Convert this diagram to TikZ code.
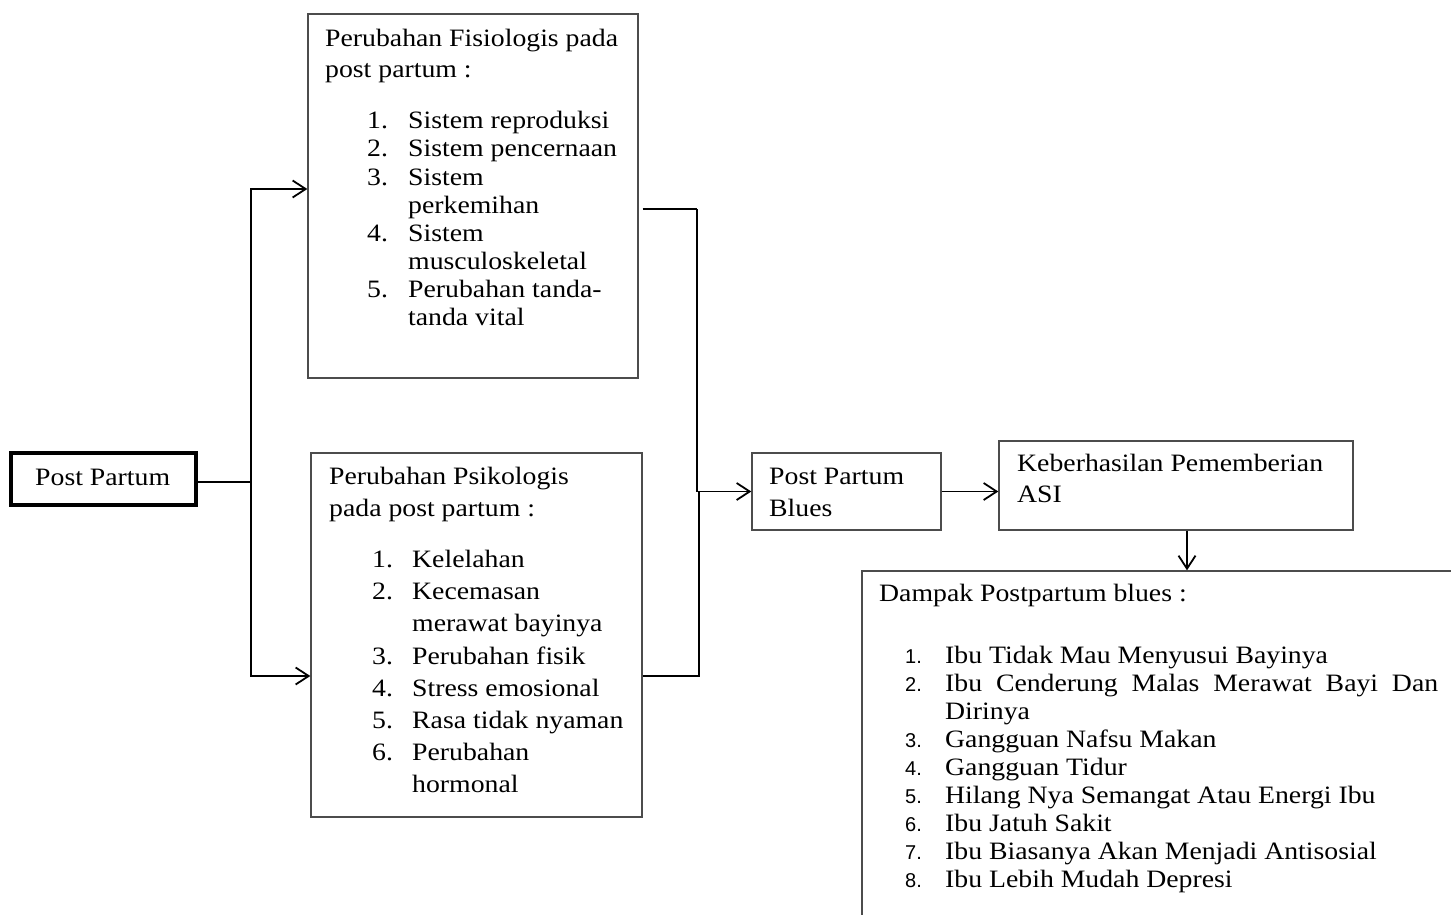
\documentclass[tikz,border=0pt]{standalone}
\usepackage{fontspec}
\setmainfont{Liberation Serif}[FakeStretch=1.11]
\newfontfamily\numsans{Liberation Sans}
\usetikzlibrary{arrows.meta}
\tikzset{
  box/.style={draw=black!70, line width=1.4pt, rectangle, inner sep=0pt},
  mainbox/.style={draw=black, line width=3.5pt, rectangle, inner sep=0pt},
  txt/.style={anchor=base west, inner sep=0pt, font=\fontsize{25}{30}\selectfont},
  num/.style={anchor=base west, inner sep=0pt, font=\fontsize{25}{30}\selectfont},
  snum/.style={anchor=base west, inner sep=0pt, font=\numsans\fontsize{20}{24}\selectfont},
  conn/.style={draw=black, line width=1.8pt},
  arr/.style={conn, -{Straight Barb[length=13pt,width=17pt,line width=1.8pt]}}
}
\begin{document}
\begin{tikzpicture}[x=1pt,y=-1pt]
\useasboundingbox (0,0) rectangle (1451,915);
\clip (0,0) rectangle (1451,915);
\fill[white] (0,0) rectangle (1451,915);

% boxes
\node[mainbox, minimum width=185pt, minimum height=52pt] (pp) at (103.5,479) {};
\node[box, minimum width=330pt, minimum height=364pt] (fis) at (473,196) {};
\node[box, minimum width=331pt, minimum height=364pt] (psi) at (476.5,635) {};
\node[box, minimum width=189pt, minimum height=77pt] (blues) at (846.5,491.5) {};
\node[box, minimum width=354pt, minimum height=89pt] (keb) at (1176,485.5) {};
\node[box, minimum width=620pt, minimum height=380pt] (dampak) at (1172,761) {};

% texts
\node[txt] (tpp) at (35,485) {Post Partum};

\node[txt] (f0) at (325,47) {Perubahan Fisiologis pada};
\node[txt] (f00) at (325,78) {post partum :};
\node[num] (fn1) at (367,129) {1.};
\node[txt] (f1) at (408,129) {Sistem reproduksi};
\node[num] (fn2) at (367,157) {2.};
\node[txt] (f2) at (408,157) {Sistem pencernaan};
\node[num] (fn3) at (367,185) {3.};
\node[txt] (f3) at (408,185) {Sistem};
\node[txt] (f3b) at (408,213) {perkemihan};
\node[num] (fn4) at (367,241) {4.};
\node[txt] (f4) at (408,241) {Sistem};
\node[txt] (f4b) at (408,269) {musculoskeletal};
\node[num] (fn5) at (367,297) {5.};
\node[txt] (f5) at (408,297) {Perubahan tanda-};
\node[txt] (f5b) at (408,325) {tanda vital};

\node[txt] (p0) at (329,484) {Perubahan Psikologis};
\node[txt] (p00) at (329,516) {pada post partum :};
\node[num] (pn1) at (372,567) {1.};
\node[txt] (p1) at (412,567) {Kelelahan};
\node[num] (pn2) at (372,599) {2.};
\node[txt] (p2) at (412,599) {Kecemasan};
\node[txt] (p2b) at (412,631) {merawat bayinya};
\node[num] (pn3) at (372,664) {3.};
\node[txt] (p3) at (412,664) {Perubahan fisik};
\node[num] (pn4) at (372,696) {4.};
\node[txt] (p4) at (412,696) {Stress emosional};
\node[num] (pn5) at (372,728) {5.};
\node[txt] (p5) at (412,728) {Rasa tidak nyaman};
\node[num] (pn6) at (372,760) {6.};
\node[txt] (p6) at (412,760) {Perubahan};
\node[txt] (p6b) at (412,792) {hormonal};

\node[txt] (b1) at (769,484) {Post Partum};
\node[txt] (b2) at (769,516) {Blues};

\node[txt] (k1) at (1017,471) {Keberhasilan Pememberian};
\node[txt] (k2) at (1017,502) {ASI};

\node[txt] (d0) at (879,601) {Dampak Postpartum blues :};
\node[snum] (dn1) at (905,663) {1.};
\node[txt] (d1) at (945,663) {Ibu Tidak Mau Menyusui Bayinya};
\node[snum] (dn2) at (905,691) {2.};
\node[txt] (d2) at (945,691) {\makebox[493pt][s]{Ibu Cenderung Malas Merawat Bayi Dan}};
\node[txt] (d2b) at (945,719) {Dirinya};
\node[snum] (dn3) at (905,747) {3.};
\node[txt] (d3) at (945,747) {Gangguan Nafsu Makan};
\node[snum] (dn4) at (905,775) {4.};
\node[txt] (d4) at (945,775) {Gangguan Tidur};
\node[snum] (dn5) at (905,803) {5.};
\node[txt] (d5) at (945,803) {Hilang Nya Semangat Atau Energi Ibu};
\node[snum] (dn6) at (905,831) {6.};
\node[txt] (d6) at (945,831) {Ibu Jatuh Sakit};
\node[snum] (dn7) at (905,859) {7.};
\node[txt] (d7) at (945,859) {Ibu Biasanya Akan Menjadi Antisosial};
\node[snum] (dn8) at (905,887) {8.};
\node[txt] (d8) at (945,887) {Ibu Lebih Mudah Depresi};

% connectors
\coordinate (j1) at (251,482);
\coordinate (j2) at (697,209);
\coordinate (j3) at (699,676);
\draw[conn] (j1 -| pp.east) -- (j1);
\draw[arr] (j1) |- ([yshift=7pt]fis.west);
\draw[arr] (j1) |- ([yshift=-41pt]psi.west);
\draw[conn] ([xshift=4pt,yshift=-13pt]fis.east) -- (j2);
\draw[arr] (j2) |- (blues.west);
\draw[conn] ([yshift=-41pt]psi.east) -- (j3) -- (j3 |- blues.west);
\draw[arr] (blues.east) -- (blues.east -| keb.west);
\draw[arr] ([xshift=11pt]keb.south) -- ([xshift=11pt]keb.south |- dampak.north);
\end{tikzpicture}
\end{document}
